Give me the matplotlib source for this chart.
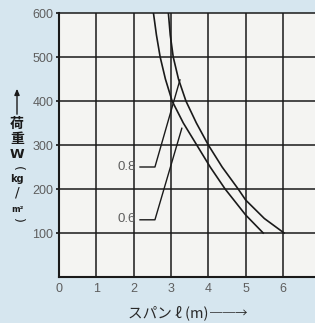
import matplotlib

matplotlib.use("Agg")
import matplotlib.pyplot as plt

# --- DATA
SPAN_TICKS = [0, 1, 2, 3, 4, 5, 6]
LOAD_TICKS = [100, 200, 300, 400, 500, 600]

# ratio 0.8 curve (outer)
span_08 = [2.93, 2.98, 3.06, 3.2, 3.4, 3.68, 4.0, 4.37, 4.8, 5.0, 5.5, 6.03]
load_08 = [600, 550, 500, 450, 400, 350, 300, 250, 200, 175, 133, 100]

# ratio 0.6 curve (inner)
span_06 = [2.53, 2.61, 2.71, 2.85, 3.03, 3.33, 3.69, 4.05, 4.45, 5.0, 5.47]
load_06 = [600, 550, 500, 450, 400, 350, 300, 250, 200, 141, 100]

# leader lines: elbow start, elbow, tip
labels = ["0.8", "0.6"]
leader_x = [[2.17, 2.57, 3.24], [2.17, 2.57, 3.29]]
leader_y = [[250, 250, 448], [130, 130, 338]]
label_xy = [(1.82, 250), (1.82, 131)]

BG = "#d6e6ef"
PLOT_BG = "#f4f4f2"
INK = "#1a1a1a"
GREY = "#5e5e5e"
JP = ["Noto Sans CJK JP", "DejaVu Sans"]

W, H = 315, 323


def main():
    fig = plt.figure(figsize=(W / 100, H / 100), dpi=100, facecolor=BG)
    ax = fig.add_axes([59 / W, 46 / H, 1 - 59 / W, 264 / H])
    ax.set_facecolor(PLOT_BG)
    ax.set_xlim(0, 256 / 37.33)
    ax.set_ylim(0, 600)

    # grid
    for x in SPAN_TICKS[1:]:
        ax.axvline(x, color=INK, lw=1.1, zorder=1)
    for y in LOAD_TICKS[:-1]:
        ax.axhline(y, color=INK, lw=1.1, zorder=1)

    for side in ["left", "bottom"]:
        ax.spines[side].set_linewidth(1.5)
        ax.spines[side].set_color(INK)
    ax.spines["top"].set_linewidth(1.1)
    ax.spines["top"].set_color(INK)
    ax.spines["right"].set_visible(False)

    ax.set_xticks(SPAN_TICKS)
    ax.set_yticks(LOAD_TICKS)
    ax.tick_params(axis="x", length=0, pad=4, labelsize=9, labelcolor=GREY)
    ax.tick_params(axis="y", length=2.5, width=1.1, pad=1.5, labelsize=9, labelcolor=GREY)
    for lab in ax.get_xticklabels() + ax.get_yticklabels():
        lab.set_family("Liberation Sans")

    # curves
    ax.plot(span_08, load_08, color=INK, lw=1.2, zorder=3)
    ax.plot(span_06, load_06, color=INK, lw=1.2, zorder=3)

    # leaders and their labels
    for lab, lx, ly, (tx, ty) in zip(labels, leader_x, leader_y, label_xy):
        ax.plot(lx, ly, color=INK, lw=1.0, zorder=3)
        ax.text(tx, ty, lab, ha="center", va="center", fontsize=9.5,
                family="Liberation Sans", color=GREY, zorder=4)

    # y axis label, stacked vertically
    def fy(py):
        return 1 - py / H

    xc = 17 / W
    ax.annotate("", xy=(xc, fy(86)), xytext=(xc, fy(117)), xycoords="figure fraction",
                arrowprops=dict(arrowstyle="-|>,head_length=0.35,head_width=0.15",
                                color=INK, lw=1.0))
    fig.text(xc, fy(123.5), "荷", family=JP, fontsize=10, fontweight="bold",
             color=INK, ha="center", va="center")
    fig.text(xc, fy(139.5), "重", family=JP, fontsize=10, fontweight="bold",
             color=INK, ha="center", va="center")
    fig.text(xc, fy(155), "W", family="DejaVu Sans", fontsize=9.5, fontweight="bold",
             color=INK, ha="center", va="center")
    fig.text(xc, fy(168), "(", family="DejaVu Sans", fontsize=9, rotation=-90,
             color=INK, ha="center", va="center")
    fig.text(xc, fy(179), "kg", family="DejaVu Sans", fontsize=7, fontweight="bold",
             color=INK, ha="center", va="center")
    fig.text(xc, fy(193), "/", family="DejaVu Sans", fontsize=10,
             color=INK, ha="center", va="center")
    fig.text(xc, fy(209), "m²", family="DejaVu Sans", fontsize=6, fontweight="bold",
             color=INK, ha="center", va="center")
    fig.text(xc, fy(220), ")", family="DejaVu Sans", fontsize=9, rotation=-90,
             color=INK, ha="center", va="center")

    # x axis label
    fig.text(128 / W, fy(313), "スパン ℓ (m)", family=JP, fontsize=10.5,
             color="#2a2a2a", ha="left", va="center")
    fig.text(210 / W, fy(313), "──→", family=JP, fontsize=9,
             color="#2a2a2a", ha="left", va="center")

    fig.savefig("out.png", dpi=100, facecolor=BG)


if __name__ == "__main__":
    main()
